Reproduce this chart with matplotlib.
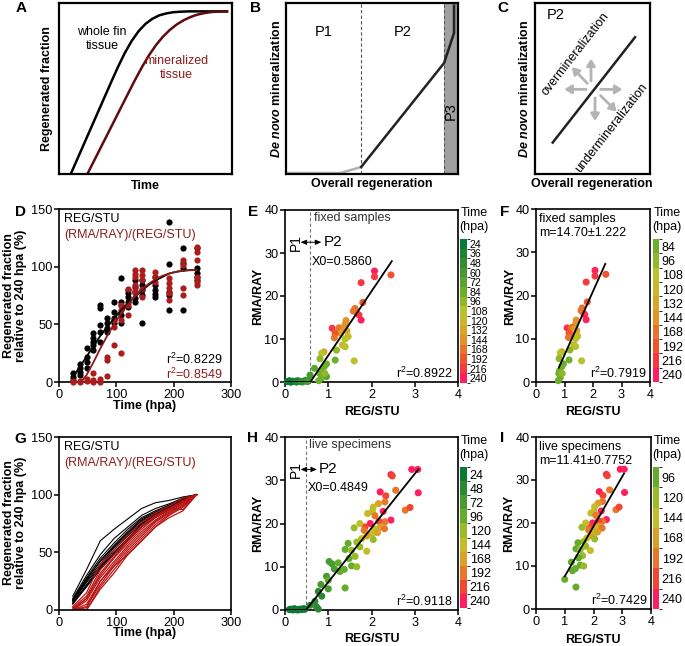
import numpy as np
import matplotlib.pyplot as plt
from matplotlib.colors import LinearSegmentedColormap, ListedColormap, BoundaryNorm
import matplotlib.cm as cm

plt.rcParams['font.family'] = ['Liberation Sans', 'DejaVu Sans']
plt.rcParams['mathtext.fontset'] = 'custom'
plt.rcParams['mathtext.rm'] = 'Liberation Sans'
plt.rcParams['mathtext.it'] = 'Liberation Sans:italic'
plt.rcParams['mathtext.bf'] = 'Liberation Sans:bold'
plt.rcParams['mathtext.bfit'] = 'Liberation Sans:italic:bold'

# ---------------- data ----------------
# A: schematic curves (axes fraction)
a_whole_x = [0.068, 0.10, 0.14, 0.18, 0.22, 0.26, 0.30, 0.34, 0.38, 0.42, 0.46, 0.50, 0.54,
             0.58, 0.62, 0.66, 0.70, 0.75, 0.971]
a_whole_y = [0.0, 0.074, 0.166, 0.258, 0.350, 0.442, 0.534, 0.624, 0.707, 0.778, 0.835, 0.878, 0.908,
             0.928, 0.939, 0.946, 0.949, 0.951, 0.951]
a_mineral_x = [0.164, 0.20, 0.24, 0.28, 0.32, 0.36, 0.40, 0.44, 0.48, 0.52, 0.56, 0.60, 0.64,
               0.68, 0.72, 0.76, 0.80, 0.84, 0.88, 0.92, 0.971]
a_mineral_y = [0.0, 0.072, 0.152, 0.232, 0.312, 0.392, 0.472, 0.551, 0.626, 0.694, 0.753, 0.802, 0.842,
               0.874, 0.899, 0.918, 0.932, 0.941, 0.947, 0.950, 0.951]

# B: schematic phases
b_p1_x = [0.0, 0.317, 0.437]
b_p1_y = [0.006, 0.006, 0.041]
b_p2_x = [0.437, 0.919, 0.977, 0.977]
b_p2_y = [0.041, 0.649, 0.825, 0.984]

# C: P2 line and arrows
c_line_x = [0.154, 0.87]
c_line_y = [0.184, 0.80]
c_arrows = [((0.487, 0.545), (0.487, 0.675)),
            ((0.455, 0.530), (0.320, 0.625)),
            ((0.445, 0.495), (0.255, 0.495)),
            ((0.570, 0.495), (0.760, 0.495)),
            ((0.522, 0.445), (0.522, 0.310)),
            ((0.570, 0.458), (0.710, 0.365))]

# D: fixed samples, regenerated fraction (%)
d_black_t = [24, 24, 24, 36, 36, 36, 36, 48, 48, 48, 48, 60, 60, 60, 60, 60,
             72, 72, 72, 72, 72, 84, 84, 84, 84, 96, 96, 96, 96, 108, 108, 108, 108, 108,
             120, 120, 120, 120, 120, 132, 132, 132, 132, 132, 144, 144, 144, 144, 144,
             168, 168, 168, 168, 168, 192, 192, 192, 192, 192, 216, 216, 216, 216,
             240, 240, 240, 240, 240]
d_black_y = [7.5, 4.6, 1.7, 15.3, 11.8, 8.9, 6, 29.2, 22, 17.6, 11.8, 42.2, 37.9, 35, 32, 27.8,
             66.8, 64, 49.5, 43.7, 35, 55.2, 50.9, 46.6, 43.7, 69.7, 61, 55.2, 50.9, 90.5, 69.7, 66.8, 58.2, 50.9,
             79.8, 76.9, 74, 69.7, 65.3, 88.4, 82.7, 77.8, 72.6, 69.7, 88.4, 84, 79.8, 75.4, 50.9,
             91.3, 84, 79.8, 76, 74, 139, 102, 78.3, 75.4, 62.4, 115.8, 102.8, 98.5, 62.4,
             115.8, 98.5, 94.1, 91.3, 88.4]
d_red_t = [24, 24, 36, 36, 48, 48, 60, 60, 60, 72, 72, 84, 84, 84, 96, 96, 96,
           108, 108, 108, 108, 120, 120, 120, 132, 132, 132, 132, 132, 132,
           144, 144, 144, 144, 144, 168, 168, 168, 192, 192, 192, 192, 192,
           216, 216, 216, 216, 240, 240, 240, 240, 240, 240]
d_red_y = [1, 0.3, 0.3, 0.6, 3, 0.5, 7.5, 1.7, 0.3, 3, 0.3, 22, 19, 5.6, 54, 48, 32,
           66.8, 62.4, 53.8, 24.9, 81, 66.8, 58.2, 97, 94, 91.3, 84, 79.8, 76.9,
           97, 92.7, 88.4, 81, 74, 95.7, 91.3, 87, 89.9, 85.5, 81.2, 76.9, 71,
           105.6, 101.3, 81.2, 75.4, 117.2, 112.9, 105.6, 91.3, 87, 84]
d_fit_t = [24, 36, 48, 60, 72, 84, 96, 108, 120, 132, 144, 156, 168, 180, 192, 204, 216, 228, 240]
d_fit_black = [4, 13, 22, 31, 40, 48, 55, 62, 68, 74, 79, 84, 88, 91, 94, 95.5, 96.5, 97, 97]
d_fit_red_t = [38, 48, 60, 72, 84, 96, 108, 120, 132, 144, 156, 168, 180, 192, 204, 216, 228, 240]
d_fit_red = [0, 6, 17, 29, 40, 50, 59, 67, 74, 80, 85, 89, 92, 94, 95.5, 96.5, 97, 97]

# E/F: fixed samples, REG/STU vs RMA/RAY, time (hpa)
e_times = [24, 36, 48, 60, 72, 84, 96, 108, 120, 132, 144, 168, 192, 216, 240]
e_x = [0.05, 0.10, 0.14, 0.18, 0.22, 0.27, 0.30, 0.35, 0.40, 0.44, 0.48, 0.52, 0.55, 0.12, 0.25, 0.38,
       2.07, 2.07, 2.45, 1.76, 1.80, 1.62, 1.58, 1.66, 1.71, 1.76, 1.41, 1.39, 1.09, 1.25, 1.35,
       1.43, 1.29, 1.16, 1.46, 1.14, 1.39, 1.33, 0.90, 1.39, 1.19, 0.85, 0.81, 1.16, 1.60, 0.96,
       0.91, 0.68, 0.83, 0.96, 0.85, 0.58, 0.78, 0.80, 0.92]
e_y = [0.1, 0.3, 0.0, 0.2, 0.1, 0.0, 0.3, 0.1, 0.0, 0.2, 0.4, 0.1, 0.3, 0.0, 0.2, 0.1,
       25.8, 24.5, 24.9, 23.1, 18.5, 17.1, 16.5, 16.0, 15.6, 14.4, 14.3, 13.4, 12.5, 12.6, 12.3,
       11.9, 11.3, 11.3, 10.6, 10.3, 10.0, 8.6, 7.0, 8.2, 7.4, 6.7, 5.4, 5.1, 4.9, 4.2,
       3.6, 3.2, 2.6, 1.25, 1.0, 1.6, 0.3, 2.0, 2.0]
e_t = [24, 24, 24, 36, 36, 36, 36, 48, 48, 48, 48, 60, 60, 24, 36, 48,
       240, 216, 192, 216, 192, 168, 168, 168, 216, 240, 144, 144, 216, 168, 144,
       132, 132, 192, 120, 168, 108, 120, 132, 108, 96, 108, 96, 84, 108, 84,
       84, 72, 84, 72, 84, 60, 84, 84, 96]
e_fit_x = [0.0, 0.586, 2.47]
e_fit_y = [0.0, 0.0, 28.1]
f_times = [84, 96, 108, 120, 132, 144, 168, 192, 216, 240]
f_fit_x = [0.80, 2.43]
f_fit_y = [3.3, 27.3]

# G: live specimens, per-fish curves (%)
g_t = [24, 48, 72, 96, 120, 144, 168, 192, 216, 240]
g_black = [[12, 35, 60, 70, 79, 88, 93, 95, 98, 100],
           [10, 30, 48, 62, 72, 82, 88, 92, 97, 100],
           [9, 28, 45, 58, 70, 80, 86, 91, 96, 100],
           [8, 26, 43, 56, 68, 79, 85, 90, 96, 100],
           [8, 25, 40, 54, 66, 78, 84, 90, 95, 100],
           [7, 24, 38, 52, 64, 76, 83, 89, 95, 100],
           [6, 22, 37, 50, 62, 75, 82, 88, 94, 100],
           [6, 21, 36, 49, 61, 74, 82, 88, 94, 100],
           [5, 20, 35, 48, 60, 72, 80, 87, 94, 100],
           [9, 27, 42, 55, 67, 77, 84, 90, 97, 100]]
g_red = [[3, 15, 40, 52, 65, 76, 84, 90, 97, 100],
         [2, 12, 35, 48, 62, 73, 82, 88, 95, 100],
         [0, 10, 30, 45, 58, 70, 80, 87, 94, 100],
         [0, 8, 28, 42, 56, 68, 78, 86, 93, 100],
         [0, 5, 25, 40, 54, 66, 77, 85, 92, 100],
         [0, 3, 22, 38, 52, 64, 76, 84, 91, 100],
         [0, 0, 20, 35, 50, 62, 74, 83, 90, 100],
         [0, 0, 18, 32, 48, 60, 72, 82, 89, 100],
         [0, 2, 25, 38, 48, 60, 72, 80, 86, 100],
         [1, 10, 32, 46, 60, 72, 81, 88, 87, 100]]

# H/I: live specimens
h_times = [24, 48, 72, 96, 120, 144, 168, 192, 216, 240]
h_x = [0.10, 0.14, 0.18, 0.22, 0.26, 0.30, 0.34, 0.38, 0.42, 0.45,
       2.93, 3.07, 2.45, 2.48, 3.08, 2.20, 2.33, 2.78, 2.89, 2.31, 2.16, 2.04, 2.27, 2.02, 1.91,
       2.08, 2.45, 2.31, 2.17, 1.97, 1.85, 2.20, 2.07, 2.30, 1.83, 1.60, 1.73, 2.02, 2.14, 1.89,
       2.04, 1.77, 1.66, 1.46, 1.39, 1.54, 1.73, 1.89, 1.62, 1.48, 1.23, 1.02, 1.08, 1.37, 1.54,
       1.66, 1.14, 1.27, 0.96, 1.00, 0.83, 1.39, 0.77, 1.00, 0.85, 0.69, 0.58, 0.73, 0.46, 0.77, 2.56]
h_y = [0.1, 0.2, 0.0, 0.3, 0.1, 0.0, 0.2, 0.1, 0.3, 0.2,
       32.5, 32.5, 31.3, 31.0, 27.1, 27.3, 26.4, 23.1, 23.7, 25.0, 24.6, 23.8, 22.8, 22.8, 22.3,
       21.8, 20.8, 20.4, 20.5, 20.0, 19.2, 19.2, 18.7, 18.8, 18.4, 19.0, 20.0, 17.6, 17.9, 17.1,
       16.3, 16.5, 15.7, 15.4, 14.0, 13.8, 14.6, 13.6, 12.4, 11.9, 10.9, 11.2, 10.7, 9.4, 10.2,
       10.0, 9.5, 8.9, 7.8, 6.9, 5.9, 5.1, 4.3, 4.9, 3.2, 2.0, 1.1, 0.7, 0.2, 0.2, 27.7]
h_t = [24, 24, 24, 24, 24, 24, 24, 24, 24, 24,
       240, 240, 240, 216, 240, 240, 216, 192, 216, 192, 168, 144, 240, 144, 144,
       192, 240, 192, 216, 240, 216, 168, 144, 192, 192, 120, 144, 144, 168, 168,
       120, 144, 120, 96, 96, 120, 120, 144, 120, 96, 96, 72, 72, 96, 96,
       120, 72, 96, 72, 96, 72, 96, 48, 72, 48, 48, 48, 48, 24, 48, 192]
h_fit_x = [0.0, 0.4849, 3.08]
h_fit_y = [0.0, 0.0, 32.5]
i_times = [96, 120, 144, 168, 192, 216, 240]
i_fit_x = [1.0, 3.06]
i_fit_y = [7.6, 31.5]

# ---------------- style ----------------
DARKRED = '#8c1c1c'
REDPT = '#ad1c1c'
time_cmap = LinearSegmentedColormap.from_list(
    'time', [(0.0, '#0b7a36'), (0.35, '#6aae2b'), (0.52, '#bfc52a'),
             (0.72, '#e2922a'), (0.88, '#f24a2c'), (1.0, '#ff1f5e')])
e_colors = [time_cmap(v) for v in np.linspace(0, 1, len(e_times))]
h_colors = [time_cmap(v) for v in np.linspace(0, 1, len(h_times))]
e_cmap = dict(zip(e_times, e_colors))
h_cmap = dict(zip(h_times, h_colors))

W, H = 685, 646
fig = plt.figure(figsize=(W / 100, H / 100), dpi=100)


def add_ax(l, t, r, b):
    return fig.add_axes([l / W, 1 - b / H, (r - l) / W, (b - t) / H])


def ftext(x, y, s, **kw):
    fig.text(x / W, 1 - y / H, s, **kw)


def style(ax, lw=1.2):
    for s in ax.spines.values():
        s.set_linewidth(lw)
    ax.tick_params(direction='out', length=3.5, width=1.1, labelsize=9.2, pad=1.2)


def schematic(ax):
    style(ax, 1.6)
    ax.set_xlim(0, 1)
    ax.set_ylim(0, 1)
    ax.set_xticks([])
    ax.set_yticks([])


LBL = dict(fontsize=9, fontweight='bold')
TXT = 9

# ---------------- A ----------------
ax = add_ax(59, 3, 232, 174)
schematic(ax)
ax.plot(a_whole_x, a_whole_y, color='black', lw=1.8)
ax.plot(a_mineral_x, a_mineral_y, color='#5e0c0c', lw=1.8)
ax.text(0.25, 0.79, 'whole fin\ntissue', ha='center', va='center', fontsize=TXT, linespacing=1.3)
ax.text(0.68, 0.62, 'mineralized\ntissue', ha='center', va='center', fontsize=TXT,
        color=DARKRED, linespacing=1.3)
ftext(145, 186, 'Time', ha='center', va='center', **LBL)
ftext(47, 89, 'Regenerated fraction', ha='center', va='center', rotation=90, **LBL)
ftext(21, 8, 'A', ha='center', va='center', fontsize=11, fontweight='bold')

# ---------------- B ----------------
ax = add_ax(286, 3, 458, 174)
schematic(ax)
ax.axvspan(0.919, 1.0, color='#a0a0a0', lw=0)
ax.axvline(0.437, color='#555555', lw=0.8, ls=(0, (3, 2)))
ax.axvline(0.919, color='#555555', lw=0.8, ls=(0, (3, 2)))
ax.plot(b_p1_x, b_p1_y, color='#b0b0b0', lw=1.8)
ax.plot(b_p2_x, b_p2_y, color='#222222', lw=1.8)
ax.text(0.22, 0.83, 'P1', ha='center', va='center', fontsize=10.5)
ax.text(0.68, 0.83, 'P2', ha='center', va='center', fontsize=10.5)
ax.text(0.96, 0.37, 'P3', ha='center', va='center', fontsize=10.5, rotation=90)
ftext(372, 184, 'Overall regeneration', ha='center', va='center', **LBL)
ftext(277, 89, r'$\mathbfit{De\ novo}$ mineralization', ha='center', va='center', rotation=90, **LBL)
ftext(256, 8, 'B', ha='center', va='center', fontsize=11, fontweight='bold')

# ---------------- C ----------------
ax = add_ax(535, 3, 650, 174)
schematic(ax)
ax.plot(c_line_x, c_line_y, color='#222222', lw=1.8)
for (x0, y0), (x1, y1) in c_arrows:
    ax.annotate('', xy=(x1, y1), xytext=(x0, y0),
                arrowprops=dict(arrowstyle='-|>,head_length=0.4,head_width=0.25',
                                color='#b4b4b4', lw=2.0, shrinkA=0, shrinkB=0))
ax.text(0.35, 0.70, 'overmineralization', ha='center', va='center', fontsize=TXT, rotation=52)
ax.text(0.667, 0.268, 'undermineralization', ha='center', va='center', fontsize=TXT, rotation=52)
ax.text(0.10, 0.93, 'P2', ha='left', va='center', fontsize=10.5)
ftext(592, 184, 'Overall regeneration', ha='center', va='center', **LBL)
ftext(525, 89, r'$\mathbfit{De\ novo}$ mineralization', ha='center', va='center', rotation=90, **LBL)
ftext(503, 8, 'C', ha='center', va='center', fontsize=11, fontweight='bold')


# ---------------- D / G ----------------
def time_axes(ax):
    style(ax)
    ax.set_xlim(0, 300)
    ax.set_ylim(0, 150)
    ax.set_xticks([0, 100, 200, 300])
    ax.set_yticks([0, 50, 100, 150])
    ax.text(0.03, 0.975, 'REG/STU', transform=ax.transAxes, ha='left', va='top', fontsize=TXT)
    ax.text(0.03, 0.885, '(RMA/RAY)/(REG/STU)', transform=ax.transAxes, ha='left', va='top',
            fontsize=TXT, color=DARKRED)


ax = add_ax(59, 209, 231, 382)
time_axes(ax)
ax.scatter(d_black_t, d_black_y, s=20, color='black', lw=0, zorder=3, clip_on=False)
ax.scatter(d_red_t, d_red_y, s=20, color=REDPT, lw=0, zorder=3, clip_on=False)
ax.plot(d_fit_t, d_fit_black, color='black', lw=1.3, zorder=4)
ax.plot(d_fit_red_t, d_fit_red, color=DARKRED, lw=1.3, zorder=4)
ax.text(0.95, 0.128, r'r$^{2}$=0.8229', transform=ax.transAxes, ha='right', va='center', fontsize=TXT)
ax.text(0.95, 0.042, r'r$^{2}$=0.8549', transform=ax.transAxes, ha='right', va='center', fontsize=TXT,
        color=DARKRED)
ftext(145, 406, 'Time (hpa)', ha='center', va='center', **LBL)
ftext(15, 296, 'Regenerated fraction\nrelative to 240 hpa (%)', ha='center', va='center',
      rotation=90, linespacing=1.05, **LBL)
ftext(20, 212, 'D', ha='center', va='center', fontsize=11, fontweight='bold')

ax = add_ax(59, 437, 231, 610)
time_axes(ax)
for ys in g_black:
    ax.plot(g_t, ys, color='black', lw=0.8)
for ys in g_red:
    ax.plot(g_t, ys, color='#b81414', lw=0.9)
ftext(145, 633, 'Time (hpa)', ha='center', va='center', **LBL)
ftext(15, 523, 'Regenerated fraction\nrelative to 240 hpa (%)', ha='center', va='center',
      rotation=90, linespacing=1.05, **LBL)
ftext(20, 439, 'G', ha='center', va='center', fontsize=11, fontweight='bold')


# ---------------- scatter panels ----------------
def ratio_axes(ax):
    style(ax)
    ax.set_xlim(0, 4)
    ax.set_ylim(0, 40)
    ax.set_xticks([0, 1, 2, 3, 4])
    ax.set_yticks([0, 10, 20, 30, 40])


def colorbar(box, times, cols, fs):
    cax = add_ax(*box)
    n = len(times)
    sm = cm.ScalarMappable(norm=BoundaryNorm(np.arange(n + 1), n), cmap=ListedColormap(cols))
    cb = fig.colorbar(sm, cax=cax, ticks=np.arange(n) + 0.5, drawedges=True)
    cb.ax.set_yticklabels([str(t) for t in times])
    cb.ax.invert_yaxis()
    cb.ax.tick_params(length=0, labelsize=fs, pad=2)
    cb.outline.set_visible(False)
    cb.dividers.set_color((1, 1, 1, 0.35))
    cb.dividers.set_linewidth(0.5)
    l, t = box[0], box[1]
    ftext(l + 1, t - 26, 'Time', ha='left', va='center', fontsize=TXT)
    ftext(l - 1, t - 12, '(hpa)', ha='left', va='center', fontsize=TXT)


def p1p2(ax, x0, arrow_end, p2_x, label, ytext):
    ax.axvline(x0, color='#777777', lw=0.8, ls=(0, (3, 2)))
    ax.annotate('', xy=(0.36, 32.5), xytext=(arrow_end, 32.5),
                arrowprops=dict(arrowstyle='<|-|>,head_length=0.35,head_width=0.15',
                                color='black', lw=0.7, shrinkA=0, shrinkB=0))
    ax.text(0.25, 32.5, 'P1', rotation=90, ha='center', va='center', fontsize=10)
    ax.text(p2_x, 32.5, 'P2', ha='left', va='center', fontsize=11)
    ax.text(x0 + 0.04, ytext, label, ha='left', va='center', fontsize=TXT)


# E
ax = add_ax(285, 210, 458, 382)
ratio_axes(ax)
p1p2(ax, 0.586, 0.84, 0.90, 'X0=0.5860', 27.8)
ax.text(0.66, 38.2, 'fixed samples', ha='left', va='center', fontsize=TXT, color='#333333')
ax.scatter(e_x, e_y, s=26, c=[e_cmap[t] for t in e_t], lw=0, zorder=3, clip_on=False)
ax.plot(e_fit_x, e_fit_y, color='black', lw=1.3, zorder=4)
ax.text(0.97, 0.05, r'r$^{2}$=0.8922', transform=ax.transAxes, ha='right', va='center', fontsize=TXT)
ftext(372, 412, 'REG/STU', ha='center', va='center', **LBL)
ftext(258, 296, 'RMA/RAY', ha='center', va='center', rotation=90, **LBL)
ftext(253, 212, 'E', ha='center', va='center', fontsize=11, fontweight='bold')
colorbar((460, 239, 467, 383), e_times, e_colors, 7.6)

# F
ax = add_ax(536, 209, 650, 382)
ratio_axes(ax)
sel = [i for i, t in enumerate(e_t) if t >= 84]
ax.scatter([e_x[i] for i in sel], [e_y[i] for i in sel], s=26,
           c=[e_cmap[e_t[i]] for i in sel], lw=0, zorder=3, clip_on=False)
ax.plot(f_fit_x, f_fit_y, color='black', lw=1.3, zorder=4)
ax.text(0.03, 0.975, 'fixed samples\nm=14.70\u00b11.222', transform=ax.transAxes, ha='left', va='top',
        fontsize=TXT, linespacing=1.15)
ax.text(0.97, 0.05, r'r$^{2}$=0.7919', transform=ax.transAxes, ha='right', va='center', fontsize=TXT)
ftext(593, 412, 'REG/STU', ha='center', va='center', **LBL)
ftext(510, 296, 'RMA/RAY', ha='center', va='center', rotation=90, **LBL)
ftext(505, 212, 'F', ha='center', va='center', fontsize=11, fontweight='bold')
colorbar((653, 239, 659, 382), f_times, [e_cmap[t] for t in f_times], 9)

# H
ax = add_ax(285, 437, 458, 610)
ratio_axes(ax)
p1p2(ax, 0.4849, 0.74, 0.78, 'X0=0.4849', 28.3)
ax.text(0.55, 38.2, 'live specimens', ha='left', va='center', fontsize=TXT, color='#333333')
ax.scatter(h_x, h_y, s=26, c=[h_cmap[t] for t in h_t], lw=0, zorder=3, clip_on=False)
ax.plot(h_fit_x, h_fit_y, color='black', lw=1.3, zorder=4)
ax.text(0.97, 0.05, r'r$^{2}$=0.9118', transform=ax.transAxes, ha='right', va='center', fontsize=TXT)
ftext(372, 639, 'REG/STU', ha='center', va='center', **LBL)
ftext(258, 523, 'RMA/RAY', ha='center', va='center', rotation=90, **LBL)
ftext(253, 438, 'H', ha='center', va='center', fontsize=11, fontweight='bold')
colorbar((460, 467, 467, 608), h_times, h_colors, 9)

# I
ax = add_ax(536, 437, 651, 609)
ratio_axes(ax)
sel = [i for i, t in enumerate(h_t) if t >= 96]
ax.scatter([h_x[i] for i in sel], [h_y[i] for i in sel], s=26,
           c=[h_cmap[h_t[i]] for i in sel], lw=0, zorder=3, clip_on=False)
ax.plot(i_fit_x, i_fit_y, color='black', lw=1.3, zorder=4)
ax.text(0.03, 0.975, 'live specimens\nm=11.41\u00b10.7752', transform=ax.transAxes, ha='left', va='top',
        fontsize=TXT, linespacing=1.15)
ax.text(0.97, 0.05, r'r$^{2}$=0.7429', transform=ax.transAxes, ha='right', va='center', fontsize=TXT)
ftext(593, 640, 'REG/STU', ha='center', va='center', **LBL)
ftext(509, 523, 'RMA/RAY', ha='center', va='center', rotation=90, **LBL)
ftext(502, 438, 'I', ha='center', va='center', fontsize=11, fontweight='bold')
colorbar((653, 467, 659, 609), i_times, [h_cmap[t] for t in i_times], 9)

fig.savefig('out.png', dpi=100)
